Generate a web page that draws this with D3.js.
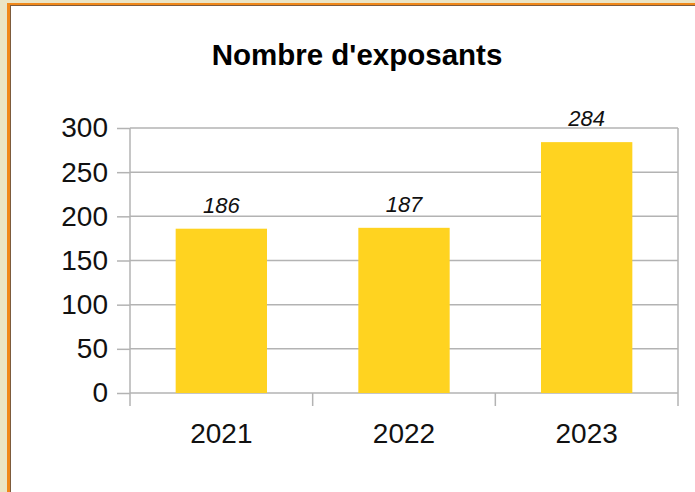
<!DOCTYPE html>
<html>
<head>
<meta charset="utf-8">
<script src="https://cdn.jsdelivr.net/npm/d3@7"></script>
<style>
  html, body { margin: 0; padding: 0; background: #fff; }
  svg { display: block; font-family: "Liberation Sans", Arial, sans-serif; }
</style>
</head>
<body>
<div id="chart"></div>
<script>
// data
var years = ["2021", "2022", "2023"];
var exposants = [186, 187, 284];
var yTicks = [0, 50, 100, 150, 200, 250, 300];

var width = 695, height = 492;
var plot = {left: 130, right: 678, top: 128, bottom: 393};

var svg = d3.select("#chart")
  .append("svg")
    .attr("width", width)
    .attr("height", height);

// frame of the document page (beige page edge, orange border)
svg.append("rect").attr("x", 0).attr("y", 0).attr("width", width).attr("height", height).attr("fill", "#ebe5c5");
svg.append("rect").attr("x", 7).attr("y", 3).attr("width", width).attr("height", height).attr("fill", "#f0881a");
svg.append("rect").attr("x", 10).attr("y", 5).attr("width", width).attr("height", height).attr("fill", "#7d5b3c");
svg.append("rect").attr("x", 11).attr("y", 6).attr("width", width).attr("height", height).attr("fill", "#ffffff");

// title
svg.append("text")
    .attr("x", 357)
    .attr("y", 65)
    .attr("text-anchor", "middle")
    .style("font-size", "29.5px")
    .style("font-weight", "bold")
    .style("fill", "#000")
    .text("Nombre d'exposants");

// scales
var x = d3.scaleBand()
    .domain(years)
    .range([plot.left, plot.right])
    .paddingInner(0.5)
    .paddingOuter(0.25);

var y = d3.scaleLinear()
    .domain([0, 300])
    .range([plot.bottom, plot.top]);

// gridlines
svg.append("g")
  .selectAll("line")
  .data(yTicks)
  .enter()
  .append("line")
    .attr("x1", plot.left)
    .attr("x2", plot.right)
    .attr("y1", function (d) { return y(d); })
    .attr("y2", function (d) { return y(d); })
    .style("stroke", "#b3b3b3")
    .style("stroke-width", 1.5);

// right border of plot area
svg.append("line")
    .attr("x1", plot.right).attr("x2", plot.right)
    .attr("y1", plot.top).attr("y2", plot.bottom + 13)
    .style("stroke", "#b3b3b3").style("stroke-width", 1.5);

// bars
svg.append("g")
  .selectAll("rect")
  .data(years)
  .enter()
  .append("rect")
    .attr("x", function (d) { return x(d); })
    .attr("y", function (d, i) { return y(exposants[i]); })
    .attr("width", x.bandwidth())
    .attr("height", function (d, i) { return y(0) - y(exposants[i]); })
    .style("fill", "#ffd320");

// value labels
svg.append("g")
  .selectAll("text")
  .data(years)
  .enter()
  .append("text")
    .attr("x", function (d) { return x(d) + x.bandwidth() / 2; })
    .attr("y", function (d, i) { return y(exposants[i]) - 16; })
    .attr("text-anchor", "middle")
    .style("font-size", "22px")
    .style("font-style", "italic")
    .style("fill", "#111")
    .text(function (d, i) { return exposants[i]; });

// Y axis
var yAxis = svg.append("g")
    .attr("transform", "translate(" + plot.left + ",0)")
    .call(d3.axisLeft(y).tickValues(yTicks).tickSize(13).tickPadding(9));
yAxis.select(".domain").remove();
yAxis.selectAll(".tick line").style("stroke", "#b3b3b3").style("stroke-width", 1.5);
yAxis.selectAll("text").style("font-size", "28px").style("fill", "#111")
    .style("font-family", "'Liberation Sans', Arial, sans-serif");
yAxis.append("line")
    .attr("x1", 0).attr("x2", 0)
    .attr("y1", plot.top).attr("y2", plot.bottom + 13)
    .style("stroke", "#b3b3b3").style("stroke-width", 1.5);

// X axis: labels centred on bands, ticks on band boundaries
var xAxis = svg.append("g")
    .attr("transform", "translate(0," + plot.bottom + ")")
    .call(d3.axisBottom(x).tickSize(0).tickPadding(30));
xAxis.select(".domain").remove();
xAxis.selectAll("text").style("font-size", "28px").style("fill", "#111")
    .style("font-family", "'Liberation Sans', Arial, sans-serif");
xAxis.selectAll(".boundary")
  .data(years.slice(1))
  .enter()
  .append("line")
    .attr("class", "boundary")
    .attr("x1", function (d) { return x(d) - x.step() * x.paddingInner() / 2; })
    .attr("x2", function (d) { return x(d) - x.step() * x.paddingInner() / 2; })
    .attr("y1", 0)
    .attr("y2", 13)
    .style("stroke", "#b3b3b3")
    .style("stroke-width", 1.5);
</script>
</body>
</html>
